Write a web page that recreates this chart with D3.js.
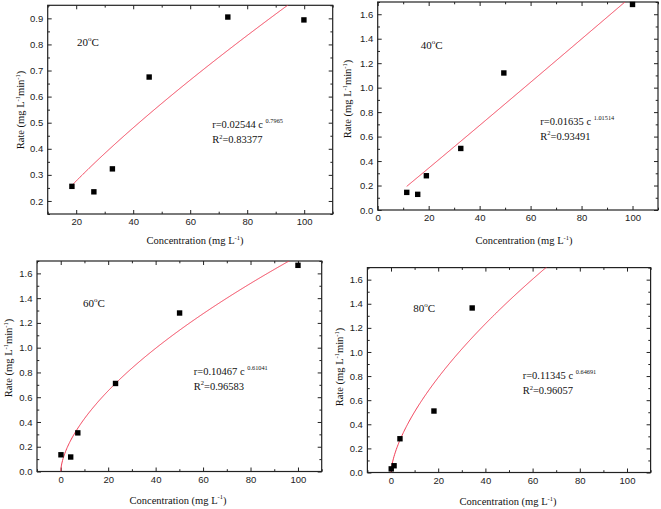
<!DOCTYPE html>
<html>
<head>
<meta charset="utf-8">
<script src="https://cdn.jsdelivr.net/npm/d3@7"></script>
<style>
  html, body { margin: 0; padding: 0; background: #fff; }
  svg { display: block; }
  .tick text { font-family: "Liberation Sans", Arial, sans-serif; font-size: 9.5px; fill: #222; }
  .tick line { stroke: #222; stroke-width: 1; }
  .serif { font-family: "Liberation Serif", "Times New Roman", serif; fill: #111; }
</style>
</head>
<body>
<svg id="chart" width="661" height="509"></svg>
<script>
// ---------- data ----------
const temperatures = ["20", "40", "60", "80"];

const conc20 = [18.5, 26.2, 32.7, 45.6, 73.2, 99.9];
const rate20 = [0.256, 0.235, 0.323, 0.675, 0.905, 0.894];

const conc40 = [11.4, 15.7, 19.1, 32.6, 49.5, 100];
const rate40 = [0.144, 0.128, 0.280, 0.503, 1.120, 1.680];

const conc60 = [0.1, 4.2, 7.2, 23.1, 50.1, 100];
const rate60 = [0.135, 0.117, 0.312, 0.711, 1.280, 1.665];

const conc80 = [0.1, 1.3, 3.8, 18.2, 34.4];
const rate80 = [0.030, 0.056, 0.280, 0.510, 1.365];

// power-law fits r = k * c^n (as printed on the chart)
const fitK = [0.02544, 0.01635, 0.10467, 0.11345];
const fitN = [0.7965, 1.01514, 0.61041, 0.64691];
const fitKText = ["0.02544", "0.01635", "0.10467", "0.11345"];
const fitNText = ["0.7965", "1.01514", "0.61041", "0.64691"];
const fitR2Text = ["0.83377", "0.93491", "0.96583", "0.96057"];
const fitFrom = [18.5, 11.4, 0, 0];
const fitTo = [100, 100, 100, 100];

// axis ranges and ticks
const xDomains = [[10, 110], [0, 110], [-10, 110], [-10, 110]];
const yDomains = [[0.15, 0.95], [0, 1.7], [0, 1.7], [0, 1.7]];
const xMajor = [[20, 40, 60, 80, 100], [0, 20, 40, 60, 80, 100], [0, 20, 40, 60, 80, 100], [0, 20, 40, 60, 80, 100]];
const xMinor = [[10, 30, 50, 70, 90, 110], [10, 30, 50, 70, 90, 110], [-10, 10, 30, 50, 70, 90, 110], [-10, 10, 30, 50, 70, 90, 110]];
const yMajor20 = [0.2, 0.3, 0.4, 0.5, 0.6, 0.7, 0.8, 0.9];
const yMinor20 = [0.15, 0.25, 0.35, 0.45, 0.55, 0.65, 0.75, 0.85, 0.95];
const yMajorHi = [0, 0.2, 0.4, 0.6, 0.8, 1.0, 1.2, 1.4, 1.6];
const yMinorHi = [0.1, 0.3, 0.5, 0.7, 0.9, 1.1, 1.3, 1.5, 1.7];
const yFormats = [".1f", ".1f", ".1f", ".1f"];

// annotation anchors (data units)
const tempLabelAt = [[20.3, 0.794], [16.9, 1.312], [9.4, 1.325], [9.4, 1.329]];
const eqLabelAt = [[67.7, 0.478], [63.8, 0.698], [56.1, 0.781], [55.8, 0.773]];

// ---------- layout ----------
const frames = [
  { l: 47.7, t: 5.3, r: 332.7, b: 214, xt: [195, 244], yt: [24, 110] },
  { l: 377.7, t: 2, r: 658, b: 210, xt: [524, 244], yt: [351, 99] },
  { l: 37, t: 261, r: 321.7, b: 471.5, xt: [178, 503.5], yt: [12, 358] },
  { l: 367.4, t: 267.6, r: 650.6, b: 472.5, xt: [508, 505], yt: [343, 367] }
];

const seriesX = [conc20, conc40, conc60, conc80];
const seriesY = [rate20, rate40, rate60, rate80];
const yMajors = [yMajor20, yMajorHi, yMajorHi, yMajorHi];
const yMinors = [yMinor20, yMinorHi, yMinorHi, yMinorHi];

const svg = d3.select("#chart");
const defs = svg.append("defs");
const MAJ = 4, MIN = 2.3;

frames.forEach((f, i) => {
  const x = d3.scaleLinear().domain(xDomains[i]).range([f.l, f.r]);
  const y = d3.scaleLinear().domain(yDomains[i]).range([f.b, f.t]);
  const g = svg.append("g");

  // axes: bottom (labelled), top, left (labelled), right
  const addAxis = (axisFn, scale, translate, values, size, fmt) => {
    const ax = axisFn(scale).tickValues(values).tickSize(-size).tickPadding(fmt ? 4.5 : 0);
    ax.tickFormat(fmt ? d3.format(fmt) : "");
    const a = g.append("g").attr("transform", translate).call(ax);
    a.select(".domain").remove();
    a.attr("font-family", null).attr("font-size", null);
    return a;
  };
  addAxis(d3.axisBottom, x, `translate(0,${f.b})`, xMajor[i], MAJ, "d");
  addAxis(d3.axisBottom, x, `translate(0,${f.b})`, xMinor[i], MIN, null);
  addAxis(d3.axisTop, x, `translate(0,${f.t})`, xMajor[i], MAJ, null);
  addAxis(d3.axisTop, x, `translate(0,${f.t})`, xMinor[i], MIN, null);
  addAxis(d3.axisLeft, y, `translate(${f.l},0)`, yMajors[i], MAJ, yFormats[i]);
  addAxis(d3.axisLeft, y, `translate(${f.l},0)`, yMinors[i], MIN, null);
  addAxis(d3.axisRight, y, `translate(${f.r},0)`, yMajors[i], MAJ, null);
  addAxis(d3.axisRight, y, `translate(${f.r},0)`, yMinors[i], MIN, null);

  // frame
  g.append("rect")
    .attr("x", f.l).attr("y", f.t)
    .attr("width", f.r - f.l).attr("height", f.b - f.t)
    .attr("fill", "none").attr("stroke", "#222").attr("stroke-width", 1.2);

  // fit curve (clipped)
  const cid = "clip" + i;
  defs.append("clipPath").attr("id", cid).append("rect")
    .attr("x", f.l).attr("y", f.t).attr("width", f.r - f.l).attr("height", f.b - f.t);
  const cs = d3.range(0, 401).map(j => fitFrom[i] + (fitTo[i] - fitFrom[i]) * j / 400);
  const line = d3.line().x(c => x(c)).y(c => y(fitK[i] * Math.pow(c, fitN[i])));
  g.append("path")
    .attr("clip-path", `url(#${cid})`)
    .attr("d", line(cs))
    .attr("fill", "none").attr("stroke", "#f03c55").attr("stroke-width", 1);

  // markers
  const s = 5.4;
  g.selectAll("rect.pt").data(seriesX[i].map((c, k) => [c, seriesY[i][k]]))
    .enter().append("rect").attr("class", "pt")
    .attr("x", d => x(d[0]) - s / 2).attr("y", d => y(d[1]) - s / 2)
    .attr("width", s).attr("height", s).attr("fill", "#000");

  // temperature label
  const tl = g.append("text").attr("class", "serif").attr("font-size", 11)
    .attr("x", x(tempLabelAt[i][0])).attr("y", y(tempLabelAt[i][1]));
  tl.append("tspan").text(temperatures[i]);
  tl.append("tspan").attr("font-size", 7).attr("dy", -5).text("o");
  tl.append("tspan").attr("dy", 5).text("C");

  // equation
  const ex = x(eqLabelAt[i][0]), ey = y(eqLabelAt[i][1]);
  const e1 = g.append("text").attr("class", "serif").attr("font-size", 10.5).attr("x", ex).attr("y", ey);
  e1.append("tspan").text(`r=${fitKText[i]} c `);
  e1.append("tspan").attr("font-size", 6.3).attr("dy", -5).text(fitNText[i]);
  const e2 = g.append("text").attr("class", "serif").attr("font-size", 10.5).attr("x", ex).attr("y", ey + 15);
  e2.append("tspan").text("R");
  e2.append("tspan").attr("font-size", 6.5).attr("dy", -4.5).text("2");
  e2.append("tspan").attr("dy", 4.5).text(`=${fitR2Text[i]}`);

  // x title
  const xt = g.append("text").attr("class", "serif").attr("font-size", 10.5)
    .attr("text-anchor", "middle").attr("x", f.xt[0]).attr("y", f.xt[1]);
  xt.append("tspan").text("Concentration (mg L");
  xt.append("tspan").attr("font-size", 6.5).attr("dy", -4.5).text("-1");
  xt.append("tspan").attr("dy", 4.5).text(")");

  // y title
  const yt = g.append("text").attr("class", "serif").attr("font-size", 10.5)
    .attr("text-anchor", "middle")
    .attr("transform", `translate(${f.yt[0]},${f.yt[1]}) rotate(-90)`);
  yt.append("tspan").text("Rate (mg L");
  yt.append("tspan").attr("font-size", 6.5).attr("dy", -4.5).text("-1");
  yt.append("tspan").attr("dy", 4.5).text("min");
  yt.append("tspan").attr("font-size", 6.5).attr("dy", -4.5).text("-1");
  yt.append("tspan").attr("dy", 4.5).text(")");
});
</script>
</body>
</html>
